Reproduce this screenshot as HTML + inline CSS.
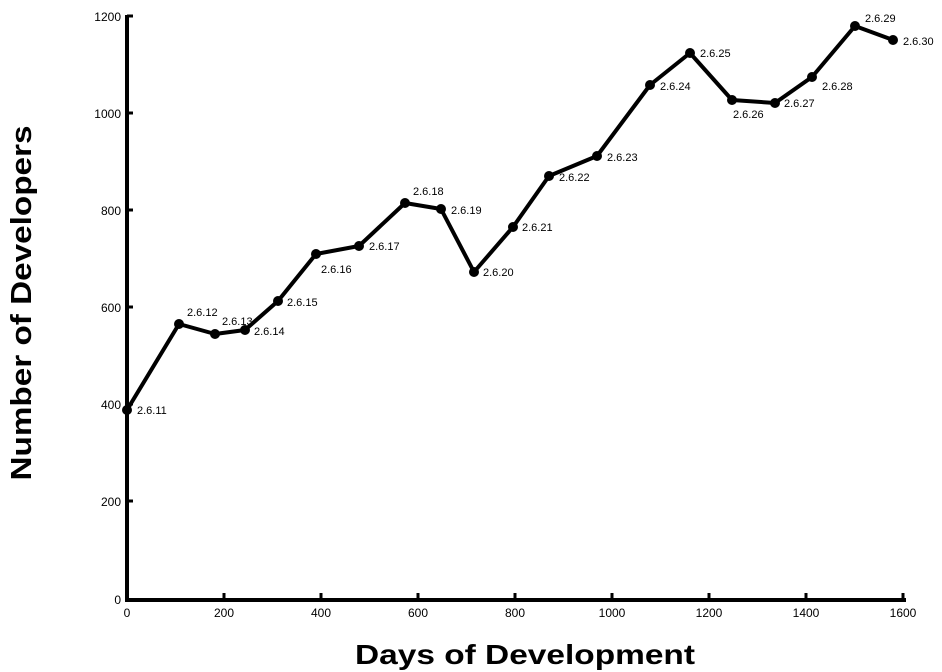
<!DOCTYPE html>
<html><head><style>body{margin:0;background:#fff}svg{display:block}</style></head><body>
<svg width="942" height="672" viewBox="0 0 942 672" xmlns="http://www.w3.org/2000/svg" font-family="Liberation Sans, sans-serif">
<rect width="942" height="672" fill="#fff"/>
<g stroke="#000" stroke-width="4" fill="none">
<line x1="127" y1="15" x2="127" y2="602"/>
<line x1="125" y1="600" x2="906" y2="600"/>
</g>
<g stroke="#000" stroke-width="3">
<line x1="127" y1="16" x2="133" y2="16"/><line x1="127" y1="113" x2="133" y2="113"/><line x1="127" y1="210" x2="133" y2="210"/><line x1="127" y1="307" x2="133" y2="307"/><line x1="127" y1="404" x2="133" y2="404"/><line x1="127" y1="501" x2="133" y2="501"/>
<line x1="224" y1="593" x2="224" y2="600"/><line x1="321" y1="593" x2="321" y2="600"/><line x1="418" y1="593" x2="418" y2="600"/><line x1="515" y1="593" x2="515" y2="600"/><line x1="612" y1="593" x2="612" y2="600"/><line x1="709" y1="593" x2="709" y2="600"/><line x1="806" y1="593" x2="806" y2="600"/><line x1="903" y1="593" x2="903" y2="600"/>
</g>
<g font-size="12" fill="#000" text-anchor="end">
<text x="121" y="21">1200</text><text x="121" y="118">1000</text><text x="121" y="215">800</text><text x="121" y="312">600</text><text x="121" y="409">400</text><text x="121" y="506">200</text><text x="121" y="604">0</text>
</g>
<g font-size="12" fill="#000" text-anchor="middle">
<text x="127" y="617">0</text><text x="224" y="617">200</text><text x="321" y="617">400</text><text x="418" y="617">600</text><text x="515" y="617">800</text><text x="612" y="617">1000</text><text x="709" y="617">1200</text><text x="806" y="617">1400</text><text x="903" y="617">1600</text>
</g>
<text x="525" y="664" font-size="28" font-weight="bold" text-anchor="middle" textLength="340" lengthAdjust="spacingAndGlyphs">Days of Development</text>
<text transform="translate(31,303) rotate(-90)" font-size="29" font-weight="bold" text-anchor="middle" textLength="355" lengthAdjust="spacingAndGlyphs">Number of Developers</text>
<polyline fill="none" stroke="#000" stroke-width="4" stroke-linejoin="round" points="127,410 179,324 215,334 245,330 278,301 316,254 359,246 405,203 441,209 474,272 513,227 549,176 597,156 650,85 690,53 732,100 775,103 812,77 855,26 893,40"/>
<g fill="#000">
<circle cx="127" cy="410" r="5"/><circle cx="179" cy="324" r="5"/><circle cx="215" cy="334" r="5"/><circle cx="245" cy="330" r="5"/><circle cx="278" cy="301" r="5"/><circle cx="316" cy="254" r="5"/><circle cx="359" cy="246" r="5"/><circle cx="405" cy="203" r="5"/><circle cx="441" cy="209" r="5"/><circle cx="474" cy="272" r="5"/><circle cx="513" cy="227" r="5"/><circle cx="549" cy="176" r="5"/><circle cx="597" cy="156" r="5"/><circle cx="650" cy="85" r="5"/><circle cx="690" cy="53" r="5"/><circle cx="732" cy="100" r="5"/><circle cx="775" cy="103" r="5"/><circle cx="812" cy="77" r="5"/><circle cx="855" cy="26" r="5"/><circle cx="893" cy="40" r="5"/>
</g>
<g font-size="11" fill="#000">
<text x="137" y="414">2.6.11</text><text x="187" y="316">2.6.12</text><text x="222" y="325">2.6.13</text><text x="254" y="335">2.6.14</text><text x="287" y="306">2.6.15</text><text x="321" y="273">2.6.16</text><text x="369" y="250">2.6.17</text><text x="413" y="195">2.6.18</text><text x="451" y="214">2.6.19</text><text x="483" y="276">2.6.20</text><text x="522" y="231">2.6.21</text><text x="559" y="181">2.6.22</text><text x="607" y="161">2.6.23</text><text x="660" y="90">2.6.24</text><text x="700" y="57">2.6.25</text><text x="733" y="118">2.6.26</text><text x="784" y="107">2.6.27</text><text x="822" y="90">2.6.28</text><text x="865" y="22">2.6.29</text><text x="903" y="45">2.6.30</text>
</g>
</svg>
</body></html>
